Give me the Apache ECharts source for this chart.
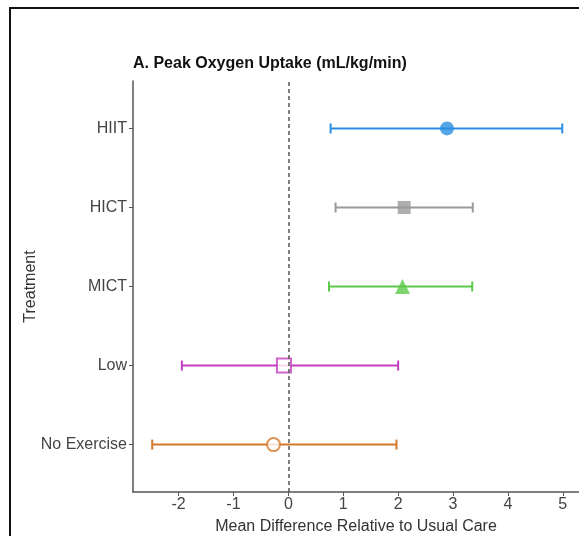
<!DOCTYPE html>
<html>
<head>
<meta charset="utf-8">
<script src="https://cdn.jsdelivr.net/npm/echarts@6/dist/echarts.min.js"></script>
<style>
html,body{margin:0;padding:0;background:#fff;}
#chart{width:579px;height:536px;}
</style>
</head>
<body>
<div id="chart"></div>
<script>
// Categories from bottom to top
var categories = ['No Exercise', 'Low', 'MICT', 'HICT', 'HIIT'];
var meanDiff = [-0.27, -0.08, 2.08, 2.11, 2.89];
var lowerCI = [-2.48, -1.94, 0.74, 0.86, 0.77];
var upperCI = [1.97, 2.00, 3.35, 3.36, 4.99];
var xTicks = [-2, -1, 0, 1, 2, 3, 4, 5];
var yTicks = [0, 1, 2, 3, 4];

var colors = ['#d4782c', '#c23fc2', '#5cc84a', '#9a9a9a', '#2a8de0'];
var symbols = ['emptyCircle', 'emptyRect', 'triangle', 'rect', 'circle'];
var sizes = [13, 14, 15, 13, 14];

var FONT = "'Liberation Sans', Arial, sans-serif";

var chart = echarts.init(document.getElementById('chart'), null, {renderer: 'canvas'});

var errData = categories.map(function (c, i) { return [lowerCI[i], upperCI[i], i]; });
var ptData = categories.map(function (c, i) {
  return {
    value: [meanDiff[i], i],
    symbol: symbols[i],
    symbolSize: sizes[i],
    itemStyle: symbols[i].indexOf('empty') === 0
      ? {color: colors[i], borderColor: colors[i], borderWidth: 2}
      : {color: colors[i], borderWidth: 0}
  };
});

var option = {
  animation: false,
  backgroundColor: '#fff',
  textStyle: {fontFamily: FONT},
  title: {
    text: 'A. Peak Oxygen Uptake (mL/kg/min)',
    left: 128, top: 51,
    textStyle: {fontFamily: FONT, fontWeight: 'bold', fontSize: 16, color: '#111'}
  },
  graphic: [{
    type: 'rect', silent: true,
    shape: {x: 10, y: 8, width: 700, height: 700},
    style: {fill: 'none', stroke: '#111', lineWidth: 2}
  }],
  grid: {left: 133, right: 0, top: 81, bottom: 44, containLabel: false, outerBoundsMode: 'none'},
  xAxis: {
    type: 'value', min: -2.83, max: 5.295,
    name: 'Mean Difference Relative to Usual Care',
    nameLocation: 'middle', nameGap: 27, nameMoveOverlap: false,
    nameTextStyle: {fontFamily: FONT, fontSize: 16, color: '#333'},
    axisLine: {show: true, onZero: false, lineStyle: {color: '#555', width: 1.5}},
    axisTick: {show: true, length: 4, lineStyle: {color: '#555'}, customValues: xTicks},
    axisLabel: {customValues: xTicks, margin: 5, fontFamily: FONT, fontSize: 16, color: '#444',
      formatter: function (v) { return String(v); }},
    splitLine: {show: false}
  },
  yAxis: {
    type: 'value', min: -0.6, max: 4.6,
    name: 'Treatment',
    nameLocation: 'middle', nameGap: 94, nameRotate: 90, nameMoveOverlap: false,
    nameTextStyle: {fontFamily: FONT, fontSize: 16, color: '#333'},
    axisLine: {show: true, onZero: false, lineStyle: {color: '#555', width: 1.5}},
    axisTick: {show: true, length: 4, lineStyle: {color: '#555'}, customValues: yTicks},
    axisLabel: {customValues: yTicks, margin: 6, fontFamily: FONT, fontSize: 16, color: '#444',
      formatter: function (v) { return categories[Math.round(v)] || ''; }},
    splitLine: {show: false}
  },
  series: [
    {
      type: 'custom',
      data: errData,
      encode: {x: [0, 1], y: 2},
      z: 2,
      renderItem: function (params, api) {
        var i = api.value(2);
        var p1 = api.coord([api.value(0), i]);
        var p2 = api.coord([api.value(1), i]);
        var h = 5;
        var col = colors[params.dataIndex];
        var st = {stroke: col, lineWidth: 2};
        return {
          type: 'group',
          children: [
            {type: 'line', shape: {x1: p1[0], y1: p1[1], x2: p2[0], y2: p2[1]}, style: st},
            {type: 'line', shape: {x1: p1[0], y1: p1[1] - h, x2: p1[0], y2: p1[1] + h}, style: st},
            {type: 'line', shape: {x1: p2[0], y1: p2[1] - h, x2: p2[0], y2: p2[1] + h}, style: st}
          ]
        };
      }
    },
    {
      type: 'scatter',
      data: ptData,
      z: 3,
      markLine: {
        silent: true, symbol: 'none', label: {show: false},
        lineStyle: {type: [4, 3], color: '#555', width: 1.5},
        data: [{xAxis: 0}]
      }
    }
  ]
};
chart.setOption(option);
</script>
</body>
</html>
